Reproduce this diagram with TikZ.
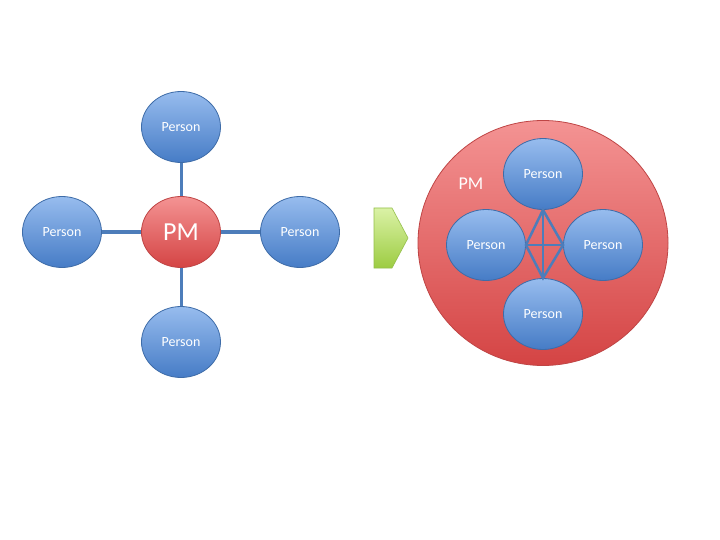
\documentclass[tikz,border=0pt]{standalone}
\usepackage{fontspec}
\setmainfont{Carlito}
\usetikzlibrary{shapes.geometric}
\definecolor{persontop}{HTML}{97BCEE}
\definecolor{personbot}{HTML}{467CC6}
\definecolor{personline}{HTML}{3E6CA8}
\definecolor{pmtop}{HTML}{F49393}
\definecolor{pmbot}{HTML}{D44444}
\definecolor{pmline}{HTML}{BF4545}
\definecolor{linkblue}{HTML}{4D7DBA}
\definecolor{arrowtop}{HTML}{DAF2A6}
\definecolor{arrowbot}{HTML}{9DCC42}
\definecolor{arrowline}{HTML}{94BF4A}
\tikzset{
	person/.style={ellipse, draw=personline, line width=0.8pt, top color=persontop, bottom color=personbot,
		minimum width=79pt, minimum height=71pt, inner sep=0pt, text=white, font=\fontsize{14}{16}\selectfont},
	pm/.style={ellipse, draw=pmline, line width=0.8pt, top color=pmtop, bottom color=pmbot,
		minimum width=79pt, minimum height=71pt, inner sep=0pt, text=white, font=\fontsize{26}{30}\selectfont},
	link/.style={draw=linkblue, line width=3pt},
}

\begin{document}
\begin{tikzpicture}[x=1pt, y=-1pt]
	\useasboundingbox[fill=white] (0,0) rectangle (720,540);
	% star around the PM
	\node[pm] (pm) at (181,232) {PM};
	\node[person] (up) at (181,127) {Person};
	\node[person] (west) at (62,232) {Person};
	\node[person] (east) at (300,232) {Person};
	\node[person] (down) at (181,342) {Person};
	\foreach \p in {up,west,east,down}
		\draw[link] (pm) -- (\p);
	% arrow
	\draw[draw=arrowline, line width=0.6pt, top color=arrowtop, bottom color=arrowbot]
		(374,208) -- (392,208) -- (408,238) -- (392,268) -- (374,268) -- cycle;
	% team inside the PM
	\node[pm, minimum width=250pt, minimum height=245pt] (team) at (543,243) {};
	\node[text=white, font=\fontsize{18}{21}\selectfont] (teamlabel) at (471,184) {PM};
	\node[person] (itop) at (543,174) {Person};
	\node[person] (ileft) at (486,245) {Person};
	\node[person] (iright) at (603,245) {Person};
	\node[person] (ibot) at (543,314) {Person};
	\draw[link, line width=2.5pt] (itop.south) -- (ileft.east) -- (ibot.north) -- (iright.west) -- cycle;
	\draw[link, line width=2.5pt] (itop.south) -- (ibot.north);
	\draw[link, line width=2.5pt] (ileft.east) -- (iright.west);
\end{tikzpicture}
\end{document}
